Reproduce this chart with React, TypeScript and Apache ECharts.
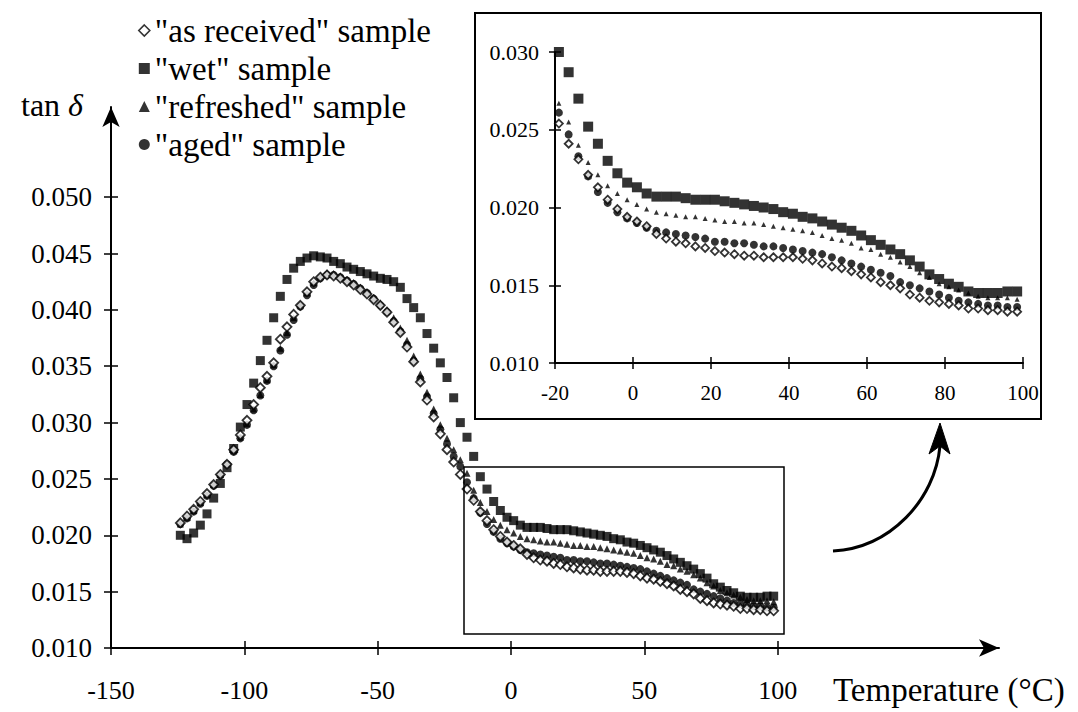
import React, { useEffect, useRef } from "react";
import * as echarts from "echarts";

// Temperature sampling (°C)
const temps = [
  -124, -121.5, -119, -116.5, -114, -111.5, -109, -106.5, -104, -101.5,
  -99, -96.5, -94, -91.5, -89, -86.5, -84, -81.5, -79, -76.5,
  -74, -71.5, -69, -66.5, -64, -61.5, -59, -56.5, -54, -51.5,
  -49, -46.5, -44, -41.5, -39, -36.5, -34, -31.5, -29, -26.5,
  -24, -21.5, -19, -16.5, -14, -11.5, -9, -6.5, -4, -1.5,
  1, 3.5, 6, 8.5, 11, 13.5, 16, 18.5, 21, 23.5,
  26, 28.5, 31, 33.5, 36, 38.5, 41, 43.5, 46, 48.5,
  51, 53.5, 56, 58.5, 61, 63.5, 66, 68.5, 71, 73.5,
  76, 78.5, 81, 83.5, 86, 88.5, 91, 93.5, 96, 98.5,
];

const asReceived = [
  0.0211, 0.0217, 0.0223, 0.0230, 0.0237, 0.0245, 0.0254, 0.0263, 0.0276, 0.0289,
  0.0302, 0.0316, 0.0331, 0.0341, 0.0353, 0.0374, 0.0385, 0.0396, 0.0404, 0.0416,
  0.0425, 0.0429, 0.0431, 0.0430, 0.0428, 0.0425, 0.0422, 0.0418, 0.0414, 0.0409,
  0.0404, 0.0398, 0.0389, 0.0380, 0.0367, 0.0354, 0.0336, 0.0320, 0.0305, 0.0290,
  0.0276, 0.0265, 0.0254, 0.0241, 0.0231, 0.0221, 0.0213, 0.0205, 0.0199, 0.0194,
  0.0191, 0.0188, 0.0183, 0.0180, 0.0178, 0.0177, 0.0175, 0.0174, 0.0172, 0.0171,
  0.0170, 0.0169, 0.0169, 0.0168, 0.0168, 0.0168, 0.0168, 0.0167, 0.0166, 0.0164,
  0.0162, 0.0161, 0.0159, 0.0157, 0.0155, 0.0152, 0.0150, 0.0148, 0.0144, 0.0142,
  0.0140, 0.0139, 0.0138, 0.0137, 0.0135, 0.0135, 0.0134, 0.0134, 0.0133, 0.0133,
];

const wet = [
  0.0200, 0.0197, 0.0202, 0.0209, 0.0219, 0.0233, 0.0246, 0.0260, 0.0277, 0.0296,
  0.0316, 0.0335, 0.0355, 0.0373, 0.0393, 0.0412, 0.0427, 0.0437, 0.0443, 0.0446,
  0.0448, 0.0447, 0.0446, 0.0443, 0.0441, 0.0438, 0.0436, 0.0434, 0.0432, 0.0430,
  0.0428, 0.0427, 0.0425, 0.0420, 0.0410, 0.0402, 0.0393, 0.0379, 0.0366, 0.0353,
  0.0340, 0.0322, 0.0300, 0.0287, 0.0270, 0.0252, 0.0241, 0.0230, 0.0222, 0.0216,
  0.0213, 0.0209, 0.0207, 0.0207, 0.0207, 0.0206, 0.0205, 0.0205, 0.0205, 0.0204,
  0.0203, 0.0202, 0.0201, 0.0200, 0.0199, 0.0197, 0.0196, 0.0194, 0.0193, 0.0191,
  0.0189, 0.0187, 0.0185, 0.0182, 0.0179, 0.0176, 0.0173, 0.0170, 0.0166, 0.0162,
  0.0157, 0.0154, 0.0151, 0.0149, 0.0146, 0.0145, 0.0145, 0.0145, 0.0146, 0.0146,
];

const refreshed = [
  0.0210, 0.0216, 0.0222, 0.0229, 0.0236, 0.0245, 0.0254, 0.0264, 0.0275, 0.0287,
  0.0299, 0.0312, 0.0325, 0.0338, 0.0351, 0.0366, 0.0380, 0.0393, 0.0405, 0.0415,
  0.0424, 0.0430, 0.0433, 0.0432, 0.0430, 0.0427, 0.0424, 0.0420, 0.0416, 0.0411,
  0.0406, 0.0400, 0.0393, 0.0384, 0.0373, 0.0359, 0.0343, 0.0327, 0.0312, 0.0298,
  0.0286, 0.0276, 0.0267, 0.0255, 0.0240, 0.0229, 0.0221, 0.0214, 0.0209, 0.0205,
  0.0202, 0.0199, 0.0197, 0.0196, 0.0195, 0.0194, 0.0194, 0.0193, 0.0192, 0.0191,
  0.0191, 0.0190, 0.0190, 0.0189, 0.0188, 0.0187, 0.0186, 0.0185, 0.0184, 0.0182,
  0.0180, 0.0179, 0.0177, 0.0174, 0.0173, 0.0170, 0.0168, 0.0165, 0.0162, 0.0158,
  0.0155, 0.0151, 0.0149, 0.0147, 0.0145, 0.0143, 0.0142, 0.0142, 0.0142, 0.0141,
];

const aged = [
  0.0210, 0.0215, 0.0221, 0.0228, 0.0235, 0.0244, 0.0253, 0.0263, 0.0274, 0.0286,
  0.0298, 0.0311, 0.0324, 0.0337, 0.0350, 0.0364, 0.0378, 0.0391, 0.0403, 0.0413,
  0.0422, 0.0428, 0.0431, 0.0431, 0.0429, 0.0426, 0.0423, 0.0419, 0.0415, 0.0410,
  0.0404, 0.0398, 0.0390, 0.0381, 0.0369, 0.0355, 0.0339, 0.0323, 0.0308, 0.0294,
  0.0281, 0.0270, 0.0261, 0.0247, 0.0233, 0.0220, 0.0210, 0.0203, 0.0197, 0.0193,
  0.0190, 0.0187, 0.0185, 0.0184, 0.0183, 0.0182, 0.0181, 0.0180, 0.0178, 0.0178,
  0.0177, 0.0177, 0.0176, 0.0175, 0.0175, 0.0174, 0.0173, 0.0172, 0.0171, 0.0170,
  0.0168, 0.0166, 0.0164, 0.0162, 0.0160, 0.0158, 0.0156, 0.0152, 0.0150, 0.0148,
  0.0146, 0.0144, 0.0142, 0.0140, 0.0139, 0.0138, 0.0137, 0.0137, 0.0136, 0.0136,
];

const seriesNames = ['"as received" sample', '"wet" sample', '"refreshed" sample', '"aged" sample'];

const mainXTicks = [-150, -100, -50, 0, 50, 100];
const mainYTicks = [0.01, 0.015, 0.02, 0.025, 0.03, 0.035, 0.04, 0.045, 0.05];

const FONT = "Liberation Serif";

function pairs(vals: number[]) {
  return temps.map((t, i) => [t, vals[i]]);
}

export default function App() {
  const ref = useRef<HTMLDivElement>(null);

  useEffect(() => {
    if (!ref.current) return;
    const chart = echarts.init(ref.current, undefined, { renderer: "svg" });

    const styles = [
      { symbol: "diamond", main: 9, inset: 8, itemStyle: { color: "#fff", borderColor: "#000", borderWidth: 1.8 } },
      { symbol: "rect", main: 9, inset: 10, itemStyle: { color: "#000" } },
      { symbol: "triangle", main: 7, inset: 5, itemStyle: { color: "#000" } },
      { symbol: "circle", main: 8, inset: 8, itemStyle: { color: "#000" } },
    ];
    const datasets = [asReceived, wet, refreshed, aged];
    const drawOrder = [1, 2, 3, 0];

    const series: any[] = [];
    drawOrder.forEach((k) => {
      series.push({
        type: "scatter",
        name: seriesNames[k],
        xAxisIndex: 0,
        yAxisIndex: 0,
        symbol: styles[k].symbol,
        symbolSize: styles[k].main,
        itemStyle: styles[k].itemStyle,
        data: pairs(datasets[k]),
        clip: true,
        z: 3,
      });
      series.push({
        type: "scatter",
        name: seriesNames[k],
        xAxisIndex: 2,
        yAxisIndex: 2,
        symbol: styles[k].symbol,
        symbolSize: styles[k].inset,
        itemStyle: styles[k].itemStyle,
        data: pairs(datasets[k]),
        clip: true,
        z: 3,
      });
    });

    const axisLineBlack = { color: "#000", width: 2 };
    const tickStyle = { color: "#000", width: 1.5 };

    const option: any = {
      animation: false,
      backgroundColor: "#fff",
      textStyle: { fontFamily: FONT },
      grid: [
        { left: 111, top: 107, width: 888, height: 541, containLabel: false, outerBoundsMode: "none" },
        { left: 555, top: 52, width: 468, height: 311, containLabel: false, outerBoundsMode: "none" },
      ],
      legend: {
        orient: "vertical",
        left: 133,
        top: 9,
        itemGap: 5,
        itemWidth: 11,
        itemHeight: 11,
        selectedMode: false,
        textStyle: { fontSize: 33, fontFamily: FONT, color: "#000" },
        data: [
          { name: seriesNames[0], icon: "diamond", itemStyle: { color: "#fff", borderColor: "#000", borderWidth: 1.6 } },
          { name: seriesNames[1], icon: "rect", itemStyle: { color: "#000" } },
          { name: seriesNames[2], icon: "triangle", itemStyle: { color: "#000" } },
          { name: seriesNames[3], icon: "circle", itemStyle: { color: "#000" } },
        ],
      },
      xAxis: [
        {
          gridIndex: 0, type: "value", min: -150, max: 183, position: "bottom",
          axisLine: { show: true, onZero: false, symbol: ["none", "arrow"], symbolSize: [13, 20], lineStyle: axisLineBlack },
          axisTick: { show: true, customValues: mainXTicks, length: 7, lineStyle: tickStyle },
          axisLabel: { show: true, customValues: mainXTicks, margin: 29, fontSize: 26, fontFamily: FONT, color: "#000" },
          splitLine: { show: false },
        },
        {
          gridIndex: 0, type: "value", min: -150, max: 183, position: "bottom",
          axisLine: { show: false, onZero: false },
          axisTick: { show: true, inside: true, customValues: mainXTicks, length: 7, lineStyle: tickStyle },
          axisLabel: { show: false },
          splitLine: { show: false },
        },
        {
          gridIndex: 1, type: "value", min: -20, max: 100, interval: 20, position: "bottom",
          axisLine: { show: true, onZero: false, lineStyle: axisLineBlack },
          axisTick: { show: true, length: 6, lineStyle: tickStyle },
          axisLabel: { show: true, margin: 19, fontSize: 21, fontFamily: FONT, color: "#000" },
          splitLine: { show: false },
        },
        {
          gridIndex: 1, type: "value", min: -20, max: 100, interval: 20, position: "bottom",
          axisLine: { show: false, onZero: false },
          axisTick: { show: true, inside: true, length: 6, lineStyle: tickStyle },
          axisLabel: { show: false },
          splitLine: { show: false },
        },
      ],
      yAxis: [
        {
          gridIndex: 0, type: "value", min: 0.01, max: 0.058, position: "left",
          axisLine: { show: true, onZero: false, symbol: ["none", "arrow"], symbolSize: [13, 20], lineStyle: axisLineBlack },
          axisTick: { show: true, customValues: mainYTicks, length: 7, lineStyle: tickStyle },
          axisLabel: {
            show: true, customValues: mainYTicks, margin: 19, fontSize: 27, fontFamily: FONT, color: "#000",
            formatter: (v: number) => v.toFixed(3),
          },
          splitLine: { show: false },
        },
        {
          gridIndex: 0, type: "value", min: 0.01, max: 0.058, position: "left",
          axisLine: { show: false, onZero: false },
          axisTick: { show: true, inside: true, customValues: mainYTicks, length: 7, lineStyle: tickStyle },
          axisLabel: { show: false },
          splitLine: { show: false },
        },
        {
          gridIndex: 1, type: "value", min: 0.01, max: 0.03, interval: 0.005, position: "left",
          axisLine: { show: true, onZero: false, lineStyle: axisLineBlack },
          axisTick: { show: true, length: 6, lineStyle: tickStyle },
          axisLabel: {
            show: true, margin: 16, fontSize: 22, fontFamily: FONT, color: "#000",
            formatter: (v: number) => v.toFixed(3),
          },
          splitLine: { show: false },
        },
        {
          gridIndex: 1, type: "value", min: 0.01, max: 0.03, interval: 0.005, position: "left",
          axisLine: { show: false, onZero: false },
          axisTick: { show: true, inside: true, length: 6, lineStyle: tickStyle },
          axisLabel: { show: false },
          splitLine: { show: false },
        },
      ],
      graphic: [
        {
          type: "rect", z: 10,
          shape: { x: 475, y: 13, width: 566, height: 406 },
          style: { fill: "none", stroke: "#000", lineWidth: 2 },
        },
        {
          type: "rect", z: 10,
          shape: { x: 464, y: 467, width: 320, height: 167 },
          style: { fill: "none", stroke: "#000", lineWidth: 1.5 },
        },
        {
          type: "bezierCurve", z: 10,
          shape: { x1: 833, y1: 551, cpx1: 890, cpy1: 548, cpx2: 935, cpy2: 500, x2: 940, y2: 446 },
          style: { fill: "none", stroke: "#000", lineWidth: 3 },
        },
        {
          type: "polygon", z: 10,
          shape: { points: [[940, 423], [929, 454], [940, 446], [950, 454]] },
          style: { fill: "#000", stroke: "#000", lineWidth: 1 },
        },
        {
          type: "text", z: 10, x: 21, y: 105,
          style: {
            text: "tan {i|δ}", fontSize: 32, fontFamily: FONT, fill: "#000", verticalAlign: "middle",
            rich: { i: { fontSize: 32, fontFamily: FONT, fontStyle: "italic", fill: "#000" } },
          },
        },
        {
          type: "text", z: 10, x: 833, y: 690,
          style: { text: "Temperature (°C)", fontSize: 33, fontFamily: FONT, fill: "#000", verticalAlign: "middle" },
        },
      ],
      series,
    };

    chart.setOption(option);
    return () => chart.dispose();
  }, []);

  return (
    <div
      ref={ref}
      style={{ position: "absolute", left: 0, top: 0, width: 1078, height: 712, background: "#fff" }}
    />
  );
}
